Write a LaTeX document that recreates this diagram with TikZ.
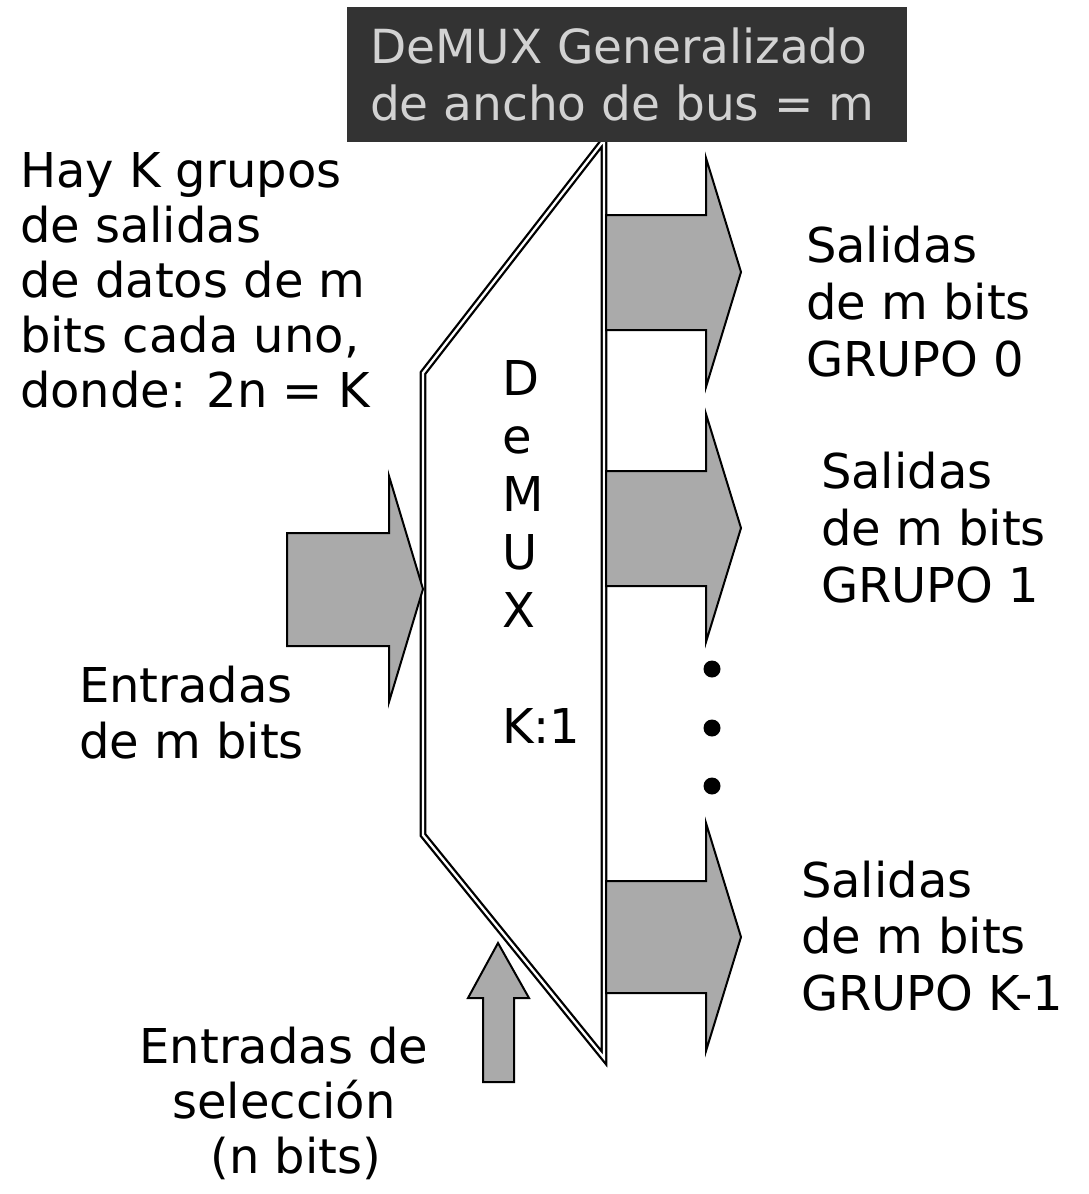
\documentclass[tikz,border=0pt]{standalone}
\usepackage{fontspec}
\setmainfont{DejaVu Sans}
\definecolor{arrowgray}{RGB}{170,170,170}
\definecolor{titlebg}{RGB}{51,51,51}
\definecolor{titlefg}{RGB}{210,210,210}
\tikzset{
  blockarrow/.style={draw=black, fill=arrowgray, line width=2pt, line join=miter},
  muxbody/.style={draw=black, double=white, double distance=2.3pt, line width=2.3pt, line join=miter},
  lbl/.style={inner sep=0pt, outer sep=0pt, font=\fontsize{48}{55}\selectfont, align=left, anchor=base west},
  titlebox/.style={fill=titlebg, inner sep=0pt, minimum width=560pt, minimum height=135pt, anchor=north west},
  dotmark/.style={fill=black}
}
\begin{document}
\begin{tikzpicture}[x=1pt, y=-1pt]
\useasboundingbox (0,0) rectangle (1088,1194);
\fill[white] (0,0) rectangle (1088,1194);

% DeMUX body (trapezoid)
\draw[muxbody] (423,835) -- (423,373) -- (604,140) -- (604,1058) -- cycle;

% output arrows
\draw[blockarrow] (606,215) -- (706,215) -- (706,158) -- (741,272) -- (706,387) -- (706,330) -- (606,330) -- cycle;
\draw[blockarrow] (606,471) -- (706,471) -- (706,414) -- (741,528) -- (706,642) -- (706,586) -- (606,586) -- cycle;
\draw[blockarrow] (606,881) -- (706,881) -- (706,823) -- (741,937) -- (706,1051) -- (706,993) -- (606,993) -- cycle;

% data input arrow
\draw[blockarrow] (287,533) -- (389,533) -- (389,476) -- (423,589) -- (389,702) -- (389,646) -- (287,646) -- cycle;

% selection input arrow
\draw[blockarrow] (483,1082) -- (483,998) -- (468,998) -- (498,943) -- (529,998) -- (514,998) -- (514,1082) -- cycle;

% dots
\fill[dotmark] (712,669) circle (8.5pt);
\fill[dotmark] (712,728) circle (8.5pt);
\fill[dotmark] (712,786) circle (8.5pt);

% title
\node[titlebox] (title) at (347,7) {};
\node[lbl, text=titlefg, font=\fontsize{47}{57}\selectfont] (titletext) at (370,120) {DeMUX Generalizado\\de ancho de bus = m};

% labels
\node[lbl] (hay) at (20,407) {Hay K grupos\\de salidas\\de datos de m\\bits cada uno,\\donde: 2n = K};
\node[lbl, font=\fontsize{48}{58}\selectfont] (muxname) at (502,743) {D\\e\\M\\U\\X\\\mbox{}\\K:1};
\node[lbl, font=\fontsize{48}{57}\selectfont] (out0) at (806,376) {Salidas\\de m bits\\GRUPO 0};
\node[lbl, font=\fontsize{48}{57}\selectfont] (out1) at (821,602) {Salidas\\de m bits\\GRUPO 1};
\node[lbl, font=\fontsize{48}{56.5}\selectfont] (outk) at (801,1010) {Salidas\\de m bits\\GRUPO K-1};
\node[lbl, font=\fontsize{48}{56}\selectfont] (datain) at (79,758) {Entradas\\de m bits};
\node[lbl, align=center, anchor=base, font=\fontsize{48}{55}\selectfont] (selin) at (284,1173) {Entradas de\\selección\\\hspace*{24pt}(n bits)};
\end{tikzpicture}
\end{document}
